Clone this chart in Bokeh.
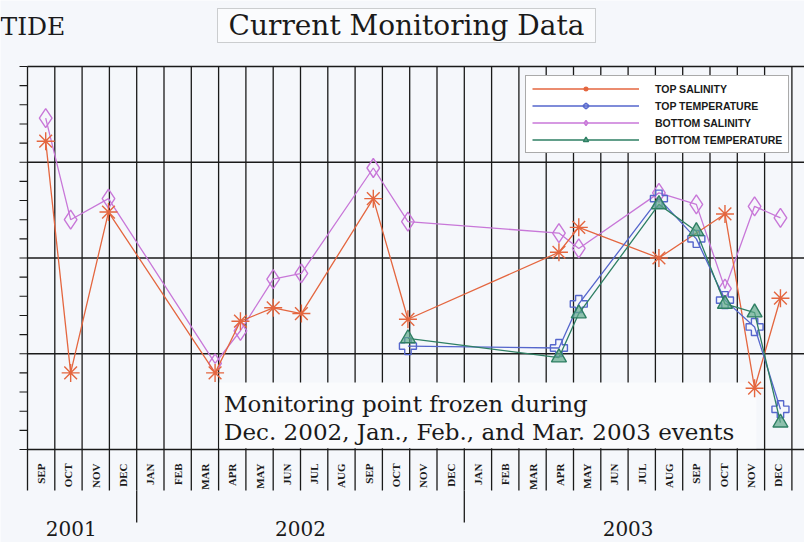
import calendar
from math import pi
from bokeh.plotting import figure
from bokeh.models import (Range1d, Label, BoxAnnotation, Legend, LegendItem, ColumnDataSource)
from bokeh.core.properties import value
from bokeh.embed import file_html
from bokeh.resources import INLINE

# ---------------- data ----------------
MONTH_LABELS = ["SEP", "OCT", "NOV", "DEC",
                "JAN", "FEB", "MAR", "APR", "MAY", "JUN", "JUL", "AUG", "SEP", "OCT", "NOV", "DEC",
                "JAN", "FEB", "MAR", "APR", "MAY", "JUN", "JUL", "AUG", "SEP", "OCT", "NOV", "DEC"]
YEAR_LABELS = ["2001", "2002", "2003"]
YEAR_MONTH_COUNTS = [4, 12, 12]
YEAR_LABEL_POS = [1.6, 10.0, 22.0]   # month position of each year label

SAMPLE_DATES = ["2001-09-21", "2001-10-19", "2001-11-30", "2002-03-28", "2002-04-25",
                "2002-06-01", "2002-07-02", "2002-09-21", "2002-10-30", "2003-04-15",
                "2003-05-07", "2003-08-05", "2003-09-16", "2003-10-18", "2003-11-20",
                "2003-12-19"]
TOP_SALINITY = [16.1, 4.0, 12.4, 4.0, 6.7, 7.4, 7.1, 13.1, 6.8, 10.3, 11.6, 10.0, None, 12.3, 3.2, 7.9]
BOTTOM_SALINITY = [17.3, 12.0, 13.1, 4.5, 6.2, 8.9, 9.2, 14.7, 11.9, 11.3, 10.5, 13.4, 12.8, 8.4, 12.7, 12.1]
TOP_TEMPERATURE = [None] * 8 + [5.4, 5.3, 7.6, 13.1, 11.0, 7.8, 6.4, 2.1]
BOTTOM_TEMPERATURE = [None] * 8 + [5.8, 4.8, 7.1, 12.8, 11.4, 7.6, 7.15, 1.4]

SERIES_NAMES = ["TOP SALINITY", "TOP TEMPERATURE", "BOTTOM SALINITY", "BOTTOM TEMPERATURE"]

Y_MAJOR = [0, 5, 10, 15, 20]
Y_MINOR = list(range(0, 21))


def month_index(s):
    y, mo, d = map(int, s.split("-"))
    base = (y - 2001) * 12 + (mo - 9)
    return base + (d - 1) / calendar.monthrange(y, mo)[1]


def source(values):
    xs, ys = [], []
    for d, v in zip(SAMPLE_DATES, values):
        if v is not None:
            xs.append(month_index(d))
            ys.append(v)
    return ColumnDataSource(dict(x=xs, y=ys))


n_months = len(MONTH_LABELS)
month_bounds = list(range(n_months + 1))
month_centers = [m + 0.5 for m in range(n_months)]
year_bounds, acc = [], 0
for c in YEAR_MONTH_COUNTS:
    acc += c
    year_bounds.append(acc)
year_bounds = year_bounds[:-1]

# ---------------- layout ----------------
W, H = 804, 542
PX_PER_MONTH = 27.3
PX_PER_UNIT = 19.15
FRAME_LEFT_PX, FRAME_TOP_PX = 27, 66
x_start = -FRAME_LEFT_PX / PX_PER_MONTH
x_end = x_start + W / PX_PER_MONTH
y_top = Y_MAJOR[-1] + FRAME_TOP_PX / PX_PER_UNIT
y_bottom = y_top - H / PX_PER_UNIT


def py(page_y):
    return y_top - page_y / PX_PER_UNIT


BG = "#F5F7FB"
INK = "#1A1A1A"
SERIF = "DejaVu Serif"

p = figure(width=W, height=H, x_range=Range1d(x_start, x_end), y_range=Range1d(y_bottom, y_top),
           output_backend="svg", toolbar_location=None,
           x_axis_location=None, y_axis_location=None,
           min_border_left=0, min_border_right=0, min_border_top=0, min_border_bottom=0,
           background_fill_color=BG, border_fill_color=BG, outline_line_color=None)
p.grid.visible = False

# month separators (through label area) and year separators
month_line_bottom = py(490)
year_line_bottom = py(522)
p.segment(x0=month_bounds, x1=month_bounds, y0=[month_line_bottom] * len(month_bounds),
          y1=[Y_MAJOR[-1]] * len(month_bounds), line_color=INK, line_width=1.3, level="underlay")
p.segment(x0=year_bounds, x1=year_bounds, y0=[year_line_bottom] * len(year_bounds),
          y1=[month_line_bottom] * len(year_bounds), line_color=INK, line_width=1.3, level="underlay")
# horizontal lines (border + major grid)
p.segment(x0=[0] * len(Y_MAJOR), x1=[x_end] * len(Y_MAJOR), y0=Y_MAJOR, y1=Y_MAJOR,
          line_color=INK, line_width=1.5, level="underlay")
# left axis minor ticks
tick_len = 8 / PX_PER_MONTH
p.segment(x0=[-tick_len] * len(Y_MINOR), x1=[0] * len(Y_MINOR), y0=Y_MINOR, y1=Y_MINOR,
          line_color=INK, line_width=1.1, level="underlay")

# annotation box covering the grid (drawn under the data)
p.add_layout(BoxAnnotation(left=7.03, right=26.7, bottom=0.06, top=py(382),
                           fill_color="#FAFBFD", fill_alpha=1.0, line_color=None, level="underlay"))

# month and year labels
p.text(x=month_centers, y=[py(463)] * n_months, text=MONTH_LABELS, angle=pi / 2,
       text_align="right", text_baseline="middle", text_font=value("Liberation Serif"),
       text_font_style="bold", text_font_size="11px", text_color=INK)
p.text(x=YEAR_LABEL_POS, y=[py(528)] * len(YEAR_LABEL_POS), text=YEAR_LABELS,
       text_align="center", text_baseline="middle", text_font=value(SERIF),
       text_font_size="20px", text_color=INK)

# series
styles = [
    ("#E4663F", "asterisk", 18, None),
    ("#5566CC", "plus", 17, None),
    ("#C877D8", "diamond", 19, None),
    ("#2E7F63", "triangle", 15, "#5FA88A"),
]
values = [TOP_SALINITY, TOP_TEMPERATURE, BOTTOM_SALINITY, BOTTOM_TEMPERATURE]
order = [2, 0, 1, 3]
items = {}
for i in order:
    color, marker, size, fill = styles[i]
    src = source(values[i])
    lr = p.line("x", "y", source=src, line_color=color, line_width=1.3)
    mr = p.scatter("x", "y", source=src, marker=marker, size=size, line_color=color, line_width=1.4,
                   fill_color=fill if fill else None, fill_alpha=0.7)
    items[i] = LegendItem(label=SERIES_NAMES[i], renderers=[lr, mr])

legend = Legend(items=[items[i] for i in range(4)], location=(525, H - 153),
                glyph_width=107, glyph_height=13, label_standoff=16, spacing=4, padding=6,
                label_text_font="Liberation Sans", label_text_font_style="bold",
                label_text_font_size="10.5px", label_text_color=INK,
                border_line_color="#555555", border_line_width=1,
                background_fill_color="#FFFFFF", background_fill_alpha=1.0)
p.add_layout(legend)

# texts
p.add_layout(Label(x=7.2, y=py(403), text="Monitoring point frozen during",
                   text_font=SERIF, text_font_size="23px", text_baseline="middle", text_color=INK))
p.add_layout(Label(x=7.2, y=py(431), text="Dec. 2002, Jan., Feb., and Mar. 2003 events",
                   text_font=SERIF, text_font_size="23px", text_baseline="middle", text_color=INK))

p.add_layout(BoxAnnotation(left=217, right=595, top=H - 8, bottom=H - 42,
                           left_units="screen", right_units="screen", top_units="screen",
                           bottom_units="screen", fill_color="#FAFBFD", fill_alpha=1.0,
                           line_color="#666666", line_width=1))
p.add_layout(Label(x=406, y=H - 25, x_units="screen", y_units="screen", text="Current Monitoring Data",
                   text_font=SERIF, text_font_size="28px", text_align="center", text_baseline="middle",
                   text_color=INK))
p.add_layout(Label(x=0, y=H - 26, x_units="screen", y_units="screen", text="TIDE",
                   text_font=SERIF, text_font_size="25px", text_align="left", text_baseline="middle",
                   text_color=INK))

open("out.html", "w").write(file_html(p, INLINE))
